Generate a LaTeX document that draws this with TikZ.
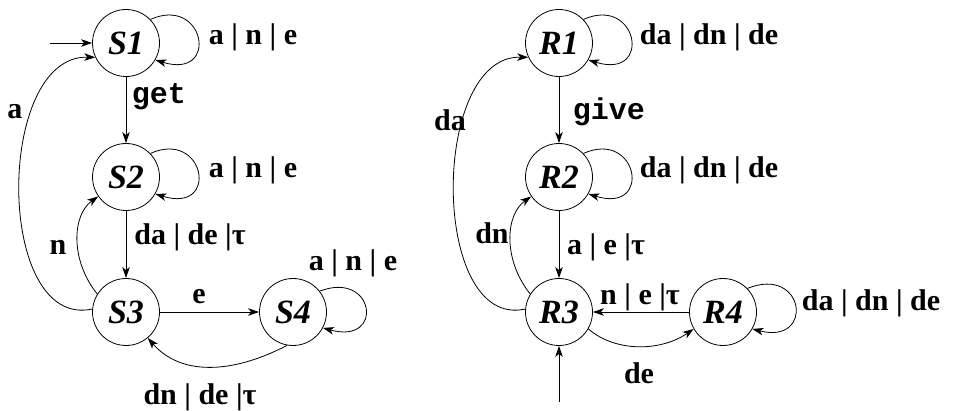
\documentclass[tikz,border=0pt]{standalone}
\usepackage{fontspec}
\setmainfont{Liberation Serif}
\setmonofont{Liberation Mono}
\usetikzlibrary{arrows.meta}
\begin{document}
\begin{tikzpicture}[x=1pt,y=-1pt,
  state/.style={draw,circle,line width=0.8pt,minimum size=67pt,inner sep=0pt,font=\fontsize{34}{34}\selectfont\bfseries\itshape},
  lbl/.style={font=\fontsize{30}{30}\selectfont\bfseries,inner sep=0pt},
  tlbl/.style={font=\fontsize{30}{30}\selectfont\ttfamily\bfseries,inner sep=0pt},
  arr/.style={line width=0.8pt,-{Stealth[length=11pt,width=7.5pt,inset=3pt]}},
  every path/.style={line width=0.8pt}]
\useasboundingbox (0,0) rectangle (954,411);
% left automaton
\node[state] (S1) at (126,43) {S1};
\node[state] (S2) at (126,177) {S2};
\node[state] (S3) at (126,312) {S3};
\node[state] (S4) at (293,312) {S4};
\coordinate (i1) at (50,43);
\draw[arr] (i1) -- (S1.west);
\draw[arr] (S1.44) .. controls (205,-5) and (220,80) .. (S1.-30);
\draw[arr] (S2.44) .. controls (205,129) and (220,214) .. (S2.-30);
\draw[arr] (S1.south) -- (S2.north);
\draw[arr] (S2.south) -- (S3.north);
\draw[arr] (S3.east) -- (S4.west);
\draw[arr] (S3.175) .. controls (-5,330) and (-5,55) .. (S1.-155);
\draw[arr] (S3.148) .. controls (70,260) and (72,215) .. (S2.-145);
\draw[arr] (S4.38) .. controls (375,270) and (385,345) .. (S4.-28);
\draw[arr] (S4.-100) .. controls (230,375) and (180,375) .. (S3.-50);
\node[lbl] (l1) at (253,37) {a | n | e};
\node[lbl] (l2) at (253,170) {a | n | e};
\node[tlbl] (l3) at (159,97) {get};
\node[lbl] (l4) at (15,112) {a};
\node[lbl] (l5) at (190,237) {da | de |τ};
\node[lbl] (l6) at (58,247) {n};
\node[lbl] (l7) at (199,297) {e};
\node[lbl] (l8) at (353,263) {a | n | e};
\node[lbl] (l9) at (200,397) {dn | de |τ};
% right automaton
\node[state] (R1) at (559,43) {R1};
\node[state] (R2) at (559,177) {R2};
\node[state] (R3) at (559,312) {R3};
\node[state] (R4) at (723,312) {R4};
\coordinate (i2) at (559,402);
\draw[arr] (i2) -- (R3.south);
\draw[arr] (R1.44) .. controls (638,-5) and (653,80) .. (R1.-30);
\draw[arr] (R2.44) .. controls (638,129) and (653,214) .. (R2.-30);
\draw[arr] (R1.south) -- (R2.north);
\draw[arr] (R2.south) -- (R3.north);
\draw[arr] (R4.west) -- (R3.east);
\draw[arr] (R3.175) .. controls (430,330) and (430,55) .. (R1.-155);
\draw[arr] (R3.148) .. controls (503,260) and (505,215) .. (R2.-145);
\draw[arr] (R4.44) .. controls (805,265) and (815,345) .. (R4.-30);
\draw[arr] (R3.-30) .. controls (615,352) and (660,352) .. (R4.-150);
\node[lbl] (m1) at (709,37) {da | dn | de};
\node[lbl] (m2) at (709,170) {da | dn | de};
\node[tlbl] (m3) at (609,112) {give};
\node[lbl] (m4) at (450,120) {da};
\node[lbl] (m5) at (606,247) {a | e |τ};
\node[lbl] (m6) at (492,233) {dn};
\node[lbl] (m7) at (640,297) {n | e |τ};
\node[lbl] (m8) at (639,373) {de};
\node[lbl] (m9) at (871,303) {da | dn | de};
\end{tikzpicture}
\end{document}
